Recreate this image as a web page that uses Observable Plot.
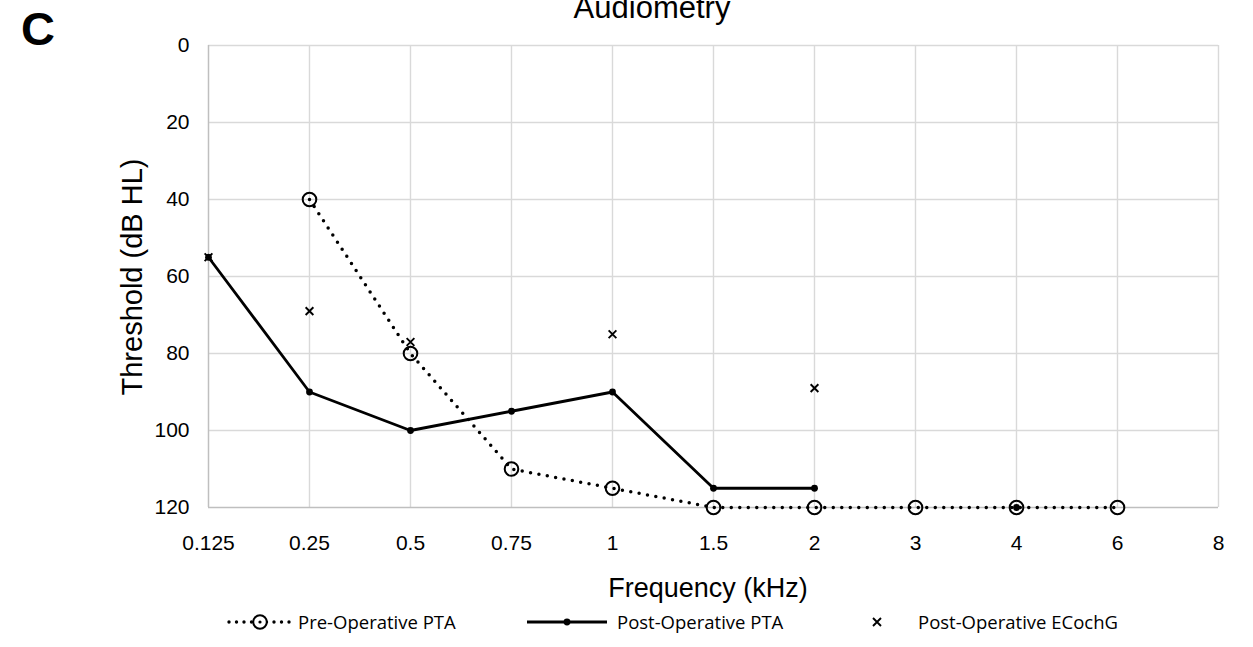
<!DOCTYPE html>
<html>
<head>
<meta charset="utf-8">
<script src="https://cdn.jsdelivr.net/npm/d3@7"></script>
<script src="https://cdn.jsdelivr.net/npm/@observablehq/plot@0.6"></script>
<style>
  html, body { margin: 0; padding: 0; background: #fff; }
  #wrap { position: relative; width: 1253px; height: 647px; overflow: hidden; }
  #chart { position: absolute; left: 0; top: 0; }
  #overlay { position: absolute; left: 0; top: 0; pointer-events: none; }
  #overlay text { font-family: 'Liberation Sans', Arial, sans-serif; fill: #000; }
  #overlay .leg { font-family: 'Open Sans', 'Noto Sans', sans-serif; font-size: 18.5px; }
</style>
</head>
<body>
<div id="wrap">
  <div id="chart"></div>
  <svg id="overlay" width="1253" height="647">
    <text x="21" y="45" font-size="47" font-weight="bold">C</text>
    <text x="652" y="18" font-size="31" text-anchor="middle">Audiometry</text>
    <text transform="translate(142,277) rotate(-90)" font-size="29" text-anchor="middle">Threshold (dB HL)</text>
    <text x="708" y="597" font-size="27" text-anchor="middle">Frequency (kHz)</text>
    <g id="legend"></g>
  </svg>
</div>
<script>
const frequencies = ["0.125", "0.25", "0.5", "0.75", "1", "1.5", "2", "3", "4", "6", "8"];
const yTicks = [0, 20, 40, 60, 80, 100, 120];

const preFreq = ["0.25", "0.5", "0.75", "1", "1.5", "2", "3", "4", "6"];
const preValues = [40, 80, 110, 115, 120, 120, 120, 120, 120];

const postFreq = ["0.125", "0.25", "0.5", "0.75", "1", "1.5", "2", "3", "4"];
const postValues = [55, 90, 100, 95, 90, 115, 115, null, 120];

const ecochFreq = ["0.125", "0.25", "0.5", "1", "2"];
const ecochValues = [55, 69, 77, 75, 89];

const seriesNames = ["Pre-Operative PTA", "Post-Operative PTA", "Post-Operative ECochG"];

const pre = preFreq.map((f, i) => ({f, v: preValues[i]}));
const post = postFreq.map((f, i) => ({f, v: postValues[i] == null ? NaN : postValues[i]}));
const ecoch = ecochFreq.map((f, i) => ({f, v: ecochValues[i]}));

const chart = Plot.plot({
  width: 1253,
  height: 600,
  marginLeft: 208,
  marginRight: 35,
  marginTop: 45,
  marginBottom: 93,
  x: {type: "point", domain: frequencies, padding: 0},
  y: {domain: [0, 120], reverse: true},
  style: {fontFamily: "'Liberation Sans', Arial, sans-serif", color: "#000", background: "transparent"},
  marks: [
    Plot.gridX(frequencies.slice(1), {stroke: "#d9d9d9", strokeOpacity: 1, strokeWidth: 1.4}),
    Plot.gridY(yTicks.slice(0, -1), {stroke: "#d9d9d9", strokeOpacity: 1, strokeWidth: 1.4}),
    Plot.ruleX([frequencies[0]], {stroke: "#bfbfbf", strokeWidth: 1.5}),
    Plot.ruleY([120], {stroke: "#bfbfbf", strokeWidth: 1.5}),
    Plot.axisY(yTicks, {tickSize: 0, tickPadding: 19, fontSize: 21, label: null}),
    Plot.axisX(frequencies, {tickSize: 0, tickPadding: 28, fontSize: 21, label: null}),
    Plot.line(pre, {x: "f", y: "v", stroke: "#000", strokeWidth: 3.5, strokeDasharray: "0,8.5", strokeLinecap: "round"}),
    Plot.dot(pre, {x: "f", y: "v", r: 6.8, stroke: "#000", strokeWidth: 2, fill: "none"}),
    Plot.line(post, {x: "f", y: "v", stroke: "#000", strokeWidth: 2.8}),
    Plot.dot(post, {x: "f", y: "v", r: 3.4, fill: "#000", stroke: "none"}),
    Plot.dot(ecoch, {x: "f", y: "v", symbol: "times", r: 3.6, stroke: "#000", strokeWidth: 1.9})
  ]
});
document.getElementById("chart").appendChild(chart);

// Legend
const leg = d3.select("#legend");
const ly = 622;
// Pre-Operative
leg.append("line").attr("x1", 229).attr("x2", 290).attr("y1", ly).attr("y2", ly)
  .attr("stroke", "#000").attr("stroke-width", 3.4).attr("stroke-dasharray", "0,7.5").attr("stroke-linecap", "round");
leg.append("circle").attr("cx", 260).attr("cy", ly).attr("r", 6.8).attr("fill", "#fff").attr("stroke", "#000").attr("stroke-width", 2);
leg.append("circle").attr("cx", 260).attr("cy", ly).attr("r", 1.6).attr("fill", "#000");
leg.append("text").attr("class", "leg").attr("x", 298).attr("y", ly + 7).text(seriesNames[0]);
// Post-Operative PTA
leg.append("line").attr("x1", 527).attr("x2", 607).attr("y1", ly).attr("y2", ly)
  .attr("stroke", "#000").attr("stroke-width", 2.8);
leg.append("circle").attr("cx", 567).attr("cy", ly).attr("r", 3.4).attr("fill", "#000");
leg.append("text").attr("class", "leg").attr("x", 617).attr("y", ly + 7).text(seriesNames[1]);
// ECochG
leg.append("path").attr("d", `M${877-4},${ly-4}L${877+4},${ly+4}M${877-4},${ly+4}L${877+4},${ly-4}`)
  .attr("stroke", "#000").attr("stroke-width", 1.9);
leg.append("text").attr("class", "leg").attr("x", 918).attr("y", ly + 7).text(seriesNames[2]);
</script>
</body>
</html>
